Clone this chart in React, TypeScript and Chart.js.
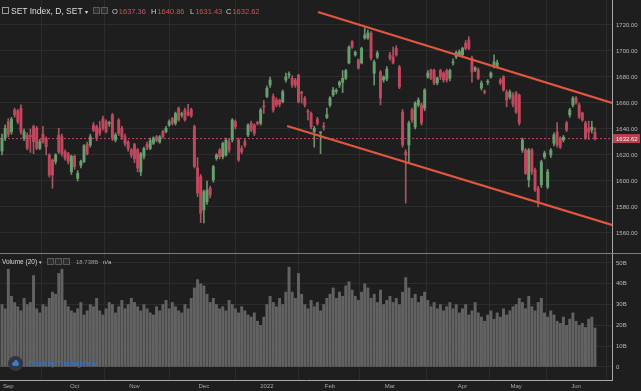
import React, { useEffect, useRef } from "react";
import { Chart, registerables } from "chart.js";
Chart.register(...registerables);

// ---------- data ----------
const opens = [
  1623, 1633, 1645.6, 1637.9, 1654.6, 1654, 1655.9, 1632.8, 1635.4, 1635,
  1641.8, 1640.5, 1625.2, 1636, 1632.8, 1620, 1616, 1615, 1635.4, 1634,
  1622.5, 1621, 1607, 1619, 1602, 1612, 1615, 1628, 1627.7, 1643,
  1641.8, 1640.5, 1648, 1645.6, 1644, 1650.8, 1631.5, 1646.9, 1640.5, 1634,
  1630, 1624, 1628, 1624, 1607, 1619, 1628, 1625, 1629, 1634,
  1630, 1638, 1638, 1643, 1648, 1644.4, 1655.9, 1650.8, 1654.6, 1653,
  1655, 1641.8, 1610, 1603.3, 1577.7, 1584, 1594.4, 1600.8, 1617.4, 1623.8,
  1618.7, 1620, 1630.2, 1631.5, 1645.6, 1631.5, 1625, 1630.2, 1635.4, 1644.4,
  1643.1, 1644.6, 1644.4, 1657.2, 1665, 1673.8, 1665, 1662.3, 1662, 1661,
  1677.7, 1681.5, 1679, 1677.7, 1681.5, 1667.7, 1663.6, 1653.3, 1652, 1638,
  1647.5, 1637, 1641.8, 1649, 1658.5, 1666.2, 1669, 1673.8, 1676, 1679,
  1690.8, 1707, 1697, 1693, 1690.8, 1710, 1710, 1713.8, 1683, 1695.4,
  1683.8, 1677.7, 1678.5, 1697, 1695.4, 1702, 1687.7, 1653, 1622.3, 1627.7,
  1654.6, 1641.5, 1658.5, 1658.5, 1656, 1680, 1685.4, 1685, 1675.4, 1685,
  1683, 1685, 1679, 1690.8, 1695.4, 1697, 1697, 1706, 1708.5, 1694.6,
  1685.4, 1685.4, 1671.5, 1668.5, 1676, 1680, 1687.7, 1688, 1677.7, 1680,
  1668.5, 1664.6, 1666, 1667.7, 1666, 1623.8, 1623.8, 1600.8, 1623.8, 1608.5,
  1594.4, 1597, 1618.5, 1595.4, 1620, 1629, 1637.7, 1633, 1631.5, 1644.6,
  1650.8, 1658.5, 1663.8, 1658.5, 1652.3, 1644.6, 1640.8, 1639.2, 1637.36,
];
const highs = [
  1636, 1643, 1648, 1649, 1656, 1655, 1658.5, 1640, 1637, 1640,
  1643, 1642, 1632, 1642, 1634, 1621, 1617, 1621, 1640.5, 1636,
  1624, 1622, 1620, 1620, 1608, 1616, 1628, 1630, 1636, 1645,
  1643, 1646, 1650, 1647, 1646, 1652, 1637, 1648, 1642, 1636,
  1631, 1625, 1629, 1625, 1622, 1626, 1630, 1633, 1634, 1635,
  1635, 1639, 1642, 1647, 1649, 1653, 1657, 1653, 1656, 1659,
  1656, 1643, 1618, 1605, 1593, 1600, 1596, 1612, 1621, 1625,
  1630, 1633, 1632, 1648, 1647, 1633, 1627, 1632, 1644, 1646,
  1644, 1646, 1656, 1662, 1673, 1680, 1667, 1664, 1663, 1670,
  1683, 1684, 1681, 1679, 1682, 1669, 1665, 1655, 1653, 1642,
  1649, 1638, 1645, 1656, 1665, 1672, 1671, 1677, 1685, 1686,
  1704, 1708, 1700, 1694, 1703, 1718, 1716, 1715, 1693, 1700,
  1685, 1681, 1688, 1699, 1703, 1704, 1689, 1655, 1624, 1646,
  1656, 1661, 1664, 1660, 1671, 1685, 1686, 1686, 1680, 1686,
  1684, 1686, 1686, 1694, 1700, 1701, 1703, 1708, 1711, 1696,
  1688, 1687, 1677, 1670, 1678, 1684, 1697, 1693, 1679, 1681,
  1670, 1670, 1668, 1669, 1667, 1633, 1625, 1625, 1625, 1610,
  1596, 1616, 1623, 1609, 1625, 1637, 1645, 1634, 1635, 1646,
  1656, 1665, 1665, 1660, 1653, 1646, 1646, 1646, 1640.86,
];
const lows = [
  1620, 1631, 1634, 1636, 1649, 1644, 1636, 1631, 1624, 1622,
  1621, 1624, 1624, 1629, 1620, 1603, 1594.4, 1613, 1621, 1619,
  1616, 1613, 1605, 1609, 1600, 1610, 1614, 1620, 1626, 1638,
  1631, 1635, 1639, 1637, 1642, 1631, 1630, 1635, 1632, 1627,
  1623, 1618, 1614, 1607, 1604, 1617, 1624, 1624, 1628, 1630,
  1629, 1633, 1637, 1642, 1643, 1643, 1646, 1649, 1646, 1650,
  1649, 1610, 1588, 1568, 1567.7, 1582, 1587, 1599, 1616, 1617,
  1617, 1619, 1622, 1630, 1640, 1615, 1621, 1626, 1634, 1638,
  1635, 1643, 1643, 1652, 1664, 1672, 1653, 1657, 1657, 1660,
  1676, 1679, 1672, 1672, 1660, 1660, 1657, 1647, 1640, 1626,
  1643, 1621, 1639, 1648, 1657, 1665, 1667, 1672, 1668, 1678,
  1690, 1702, 1696, 1686, 1690, 1709, 1709, 1693, 1673.8, 1694,
  1658.5, 1676, 1677, 1693, 1690, 1696, 1671, 1626, 1583, 1614,
  1645, 1640, 1657, 1643, 1654, 1679, 1678, 1674, 1674, 1678,
  1676, 1676, 1677, 1689, 1694, 1696, 1695, 1701, 1701, 1676,
  1684, 1678, 1670, 1667, 1674, 1679, 1687, 1687, 1674, 1669,
  1657, 1663, 1657, 1652, 1643, 1622, 1605, 1595.4, 1605, 1592,
  1580, 1595, 1617, 1594, 1618, 1627, 1626, 1625, 1630, 1638,
  1649, 1657, 1659, 1648, 1646, 1632, 1632, 1637, 1631.43,
];
const closes = [
  1633, 1640.5, 1635.9, 1647.5, 1650.8, 1645.6, 1637.9, 1637.9, 1625.2, 1634,
  1630.2, 1625.2, 1630.2, 1630, 1626.4, 1604.6, 1604.6, 1620, 1622.5, 1621,
  1617.4, 1615, 1619, 1611, 1606, 1615, 1627, 1621, 1634, 1639,
  1632.8, 1636.7, 1640.5, 1637.9, 1644.4, 1632.8, 1635.4, 1636.7, 1634, 1628.9,
  1625, 1620, 1617, 1610, 1621, 1625, 1626, 1631, 1633, 1631,
  1634, 1634, 1640.5, 1645.6, 1644.4, 1652, 1647, 1651, 1647, 1651,
  1650, 1611, 1590.8, 1575, 1591.8, 1593, 1589.2, 1611, 1620, 1618.7,
  1629, 1631.5, 1623.8, 1646.9, 1641.8, 1616.2, 1622.5, 1627.7, 1643.1, 1639.2,
  1636.7, 1644.2, 1654.6, 1657, 1671.3, 1677.7, 1654.6, 1658.5, 1659, 1668.7,
  1680.2, 1681.8, 1673.8, 1673.8, 1661, 1667.5, 1658.5, 1653, 1641.8, 1640.5,
  1644.4, 1637.3, 1641.5, 1651, 1663.8, 1670, 1669.3, 1676, 1679, 1685,
  1703, 1703, 1699, 1687, 1702, 1712.3, 1713.8, 1694.6, 1691.5, 1698.5,
  1663.8, 1680, 1686, 1694.6, 1690.8, 1697, 1672.3, 1627.7, 1620, 1644.6,
  1647, 1660, 1662.3, 1644.6, 1670, 1683, 1679, 1675.4, 1679.2, 1680,
  1677.7, 1677.7, 1685, 1691, 1699, 1699.5, 1702, 1702, 1702, 1683.8,
  1687, 1679, 1675.4, 1668.3, 1676.3, 1683, 1691.5, 1691, 1675.4, 1670,
  1662.3, 1668.5, 1659, 1653, 1644.6, 1631.5, 1606, 1623.8, 1607, 1593,
  1583.8, 1614.6, 1621.5, 1607, 1623.8, 1635.4, 1627.7, 1626, 1633.8, 1639.2,
  1654.6, 1663.8, 1660, 1649.2, 1647, 1633, 1637.7, 1641.5, 1632.62,
];
// volume in billions
const volumes = [
  30, 28, 47, 34, 31, 29, 27, 33, 30, 31, 44, 28, 26, 30, 29, 33, 36, 35, 45, 47, 32, 29, 27,
  26, 28, 31, 25, 27, 30, 29, 33, 27, 25, 28, 31, 30, 26, 29, 32, 28, 30, 33,
  31, 29, 27, 30, 28, 26, 25, 29, 27, 30, 32, 28, 31, 29, 27, 26, 30, 28, 33, 38, 42, 40,
  39, 35, 31, 33, 30, 28, 29, 27, 32, 30, 28, 26, 29, 27, 25, 24, 26, 22, 20, 24,
  30, 34, 31, 29, 33, 30, 36, 48, 36, 33, 45, 35, 30, 28, 32, 29, 31, 27, 30, 33,
  35, 38, 33, 36, 34, 39, 41, 37, 34, 32, 36, 40, 38, 33, 35, 31, 37, 30, 32,
  34, 31, 33, 30, 36, 43, 38, 33, 35, 31, 34, 36, 32, 29, 31, 28, 30, 27, 29, 31, 28, 30, 26,
  28, 30, 25, 27, 31, 26, 24, 22, 25, 27, 23, 26, 24, 28, 25, 27, 29,
  30, 33, 31, 28, 34, 29, 27, 31, 33, 26, 24, 27, 25, 22, 21, 24, 20, 23, 26,
  22, 20, 21, 19, 23, 24, 18.738,
];
const monthTickIndex = [2, 23, 42, 64, 84, 104, 123, 146, 163, 182];
const monthTickLabels = ["Sep", "Oct", "Nov", "Dec", "2022", "Feb", "Mar", "Apr", "May", "Jun"];
const priceTicks = [1560, 1580, 1600, 1620, 1640, 1660, 1680, 1700, 1720];
const volumeTicks = [0, 10, 20, 30, 40, 50];
// trend line anchors: [bar index, price]
const upperTrend = [
  { x: 100.2, y: 1730 },
  { x: 193.4, y: 1660 },
];
const lowerTrend = [
  { x: 90.4, y: 1642.3 },
  { x: 193.4, y: 1566.2 },
];

// ---------- style ----------
const BG = "#1e1e1e";
const GRID = "#2c2c2c";
const AXIS = "#a8a8a8";
const UP = "#67a06d";
const DOWN = "#c4465c";
const UP_WICK = "rgba(120,165,124,0.85)";
const DOWN_WICK = "rgba(190,95,110,0.85)";
const TREND = "#e2553e";
const VOL = "#626262";
const FONT = '"Liberation Sans", Arial, sans-serif';
const X_MIN = -0.634;
const X_MAX = 193.4;
const P_MAX = 1739.23;
const P_MIN = 1544.6;
const V_MAX = 54.8;
const V_MIN = -6.26;

const n = Math.min(opens.length, highs.length, lows.length, closes.length);
const idx = Array.from({ length: n }, (_, i) => i);
const lastClose = closes[n - 1];

const priceLabelPlugin = {
  id: "priceLabel",
  afterDraw(chart: any) {
    const ys = chart.scales.y;
    const py = ys.getPixelForValue(lastClose);
    const ctx = chart.ctx;
    ctx.save();
    ctx.fillStyle = "#b8414f";
    ctx.fillRect(ys.left + 1, py - 4.5, 27, 9);
    ctx.fillStyle = "#f2f2f2";
    ctx.font = `6px ${FONT}`;
    ctx.textBaseline = "middle";
    ctx.textAlign = "left";
    ctx.fillText(lastClose.toFixed(2), ys.left + 4, py + 0.5);
    ctx.restore();
  },
};

function PriceChart() {
  const ref = useRef<HTMLCanvasElement>(null);
  useEffect(() => {
    const up = idx.map((i) => closes[i] >= opens[i]);
    const chart = new Chart(ref.current!, {
      type: "bar",
      data: {
        datasets: [
          { type: "line", data: upperTrend, borderColor: TREND, borderWidth: 2.3, pointRadius: 0, order: 0 } as any,
          { type: "line", data: lowerTrend, borderColor: TREND, borderWidth: 2.3, pointRadius: 0, order: 0 } as any,
          {
            type: "line",
            data: [
              { x: X_MIN, y: lastClose },
              { x: X_MAX, y: lastClose },
            ],
            borderColor: DOWN,
            borderWidth: 1,
            borderDash: [2, 2],
            pointRadius: 0,
            order: 3,
          } as any,
          {
            type: "bar",
            data: idx.map((i) => ({ x: i, y: [Math.min(opens[i], closes[i]), Math.max(opens[i], closes[i])] })),
            backgroundColor: up.map((u) => (u ? UP : DOWN)),
            barThickness: 2.3,
            minBarLength: 1,
            grouped: false,
            order: 1,
          } as any,
          {
            type: "bar",
            data: idx.map((i) => ({ x: i, y: [lows[i], highs[i]] })),
            backgroundColor: up.map((u) => (u ? UP_WICK : DOWN_WICK)),
            barThickness: 1,
            grouped: false,
            order: 2,
          } as any,
        ],
      },
      options: {
        responsive: false,
        animation: false,
        events: [],
        layout: { padding: 0 },
        plugins: { legend: { display: false }, tooltip: { enabled: false } },
        scales: {
          x: {
            type: "linear",
            min: X_MIN,
            max: X_MAX,
            offset: false,
            afterBuildTicks: (s: any) => {
              s.ticks = monthTickIndex.map((v) => ({ value: v }));
            },
            afterFit: (s: any) => {
              s.height = 0;
              s.paddingLeft = 0;
              s.paddingRight = 0;
            },
            ticks: { display: false },
            grid: { color: GRID, drawTicks: false },
            border: { display: false },
          },
          y: {
            type: "linear",
            position: "right",
            min: P_MIN,
            max: P_MAX,
            afterBuildTicks: (s: any) => {
              s.ticks = priceTicks.map((v) => ({ value: v }));
            },
            afterFit: (s: any) => {
              s.width = 29;
              s.paddingTop = 0;
              s.paddingBottom = 0;
            },
            ticks: {
              color: "#b8b8b8",
              font: { size: 6, family: FONT },
              padding: 4,
              callback: (v: any) => Number(v).toFixed(2),
            },
            grid: { color: GRID, drawTicks: false },
            border: { display: true, color: AXIS },
          },
        },
      } as any,
      plugins: [priceLabelPlugin],
    });
    return () => chart.destroy();
  }, []);
  return <canvas ref={ref} width={641} height={253} style={{ display: "block" }} />;
}

function VolumeChart() {
  const ref = useRef<HTMLCanvasElement>(null);
  useEffect(() => {
    const chart = new Chart(ref.current!, {
      type: "bar",
      data: {
        datasets: [
          {
            type: "bar",
            data: volumes.map((v, i) => ({ x: i, y: v })),
            backgroundColor: VOL,
            barThickness: 2.3,
            grouped: false,
          } as any,
        ],
      },
      options: {
        responsive: false,
        animation: false,
        events: [],
        layout: { padding: 0 },
        plugins: { legend: { display: false }, tooltip: { enabled: false } },
        scales: {
          x: {
            type: "linear",
            min: X_MIN,
            max: X_MAX,
            offset: false,
            afterBuildTicks: (s: any) => {
              s.ticks = monthTickIndex.map((v) => ({ value: v }));
            },
            afterFit: (s: any) => {
              s.height = 11;
              s.paddingLeft = 0;
              s.paddingRight = 0;
            },
            ticks: {
              color: "#a8a8a8",
              font: { size: 6, family: FONT },
              padding: 3,
              maxRotation: 0,
              autoSkip: false,
              callback: (v: any) => monthTickLabels[monthTickIndex.indexOf(Number(v))] ?? "",
            },
            grid: { color: GRID, drawTicks: false },
            border: { display: true, color: AXIS },
          },
          y: {
            type: "linear",
            position: "right",
            min: V_MIN,
            max: V_MAX,
            afterBuildTicks: (s: any) => {
              s.ticks = volumeTicks.map((v) => ({ value: v }));
            },
            afterFit: (s: any) => {
              s.width = 29;
              s.paddingTop = 0;
              s.paddingBottom = 0;
            },
            ticks: {
              color: "#b8b8b8",
              font: { size: 6, family: FONT },
              padding: 4,
              callback: (v: any) => (Number(v) === 0 ? "0" : `${v}B`),
            },
            grid: { color: GRID, drawTicks: false },
            border: { display: true, color: AXIS },
          },
        },
      } as any,
    });
    return () => chart.destroy();
  }, []);
  return <canvas ref={ref} width={641} height={138} style={{ display: "block" }} />;
}

const box = (left: number, top: number, size: number): React.CSSProperties => ({
  position: "absolute",
  left,
  top,
  width: size,
  height: size,
  border: "1px solid #5a5a5a",
  background: "#2e2e2e",
  boxSizing: "border-box",
});

export default function App() {
  const txt = (left: number, top: number, size: number, color: string): React.CSSProperties => ({
    position: "absolute",
    left,
    top,
    fontSize: size,
    color,
    fontFamily: FONT,
    whiteSpace: "nowrap",
    lineHeight: 1,
  });
  const red = "#d24f5c";
  const lab = "#cfcfcf";
  return (
    <div style={{ position: "fixed", left: 0, top: 0, width: 641, height: 391, background: BG, overflow: "hidden" }}>
      <PriceChart />
      <div style={{ height: 1, background: "#7c7c7c", position: "absolute", left: 0, top: 253, width: 641, zIndex: 2 }} />
      <VolumeChart />
      {/* header legend */}
      <div style={{ ...box(2, 7, 7), border: "1px solid #9a9a9a", background: "transparent" }} />
      <div style={txt(11, 6.5, 8.5, "#dcdcdc")}>
        SET Index, D, SET <span style={{ fontSize: 6 }}>▾</span>
      </div>
      <div style={box(93, 7, 7)} />
      <div style={box(101, 7, 7)} />
      <div style={txt(112, 7.5, 7.5, lab)}>
        O<span style={{ color: red, marginLeft: 1 }}>{opens[n - 1].toFixed(2)}</span>
      </div>
      <div style={txt(151, 7.5, 7.5, lab)}>
        H<span style={{ color: red, marginLeft: 1 }}>{highs[n - 1].toFixed(2)}</span>
      </div>
      <div style={txt(190, 7.5, 7.5, lab)}>
        L<span style={{ color: red, marginLeft: 1 }}>{lows[n - 1].toFixed(2)}</span>
      </div>
      <div style={txt(226, 7.5, 7.5, lab)}>
        C<span style={{ color: red, marginLeft: 1 }}>{closes[n - 1].toFixed(2)}</span>
      </div>
      {/* volume legend */}
      <div style={txt(2, 258.5, 6.5, "#d4d4d4")}>
        Volume (20) <span style={{ fontSize: 5 }}>▾</span>
      </div>
      <div style={box(47, 258, 7)} />
      <div style={box(55, 258, 7)} />
      <div style={box(63, 258, 7)} />
      <div style={txt(76, 259, 6, "#9a9a9a")}>{volumes[volumes.length - 1].toFixed(3)}B</div>
      <div style={txt(103, 259, 6, "#bdbdbd")}>n/a</div>
      {/* watermark */}
      <div
        style={{
          position: "absolute",
          left: 8,
          top: 356,
          width: 15,
          height: 15,
          borderRadius: 8,
          background: "#33373d",
        }}
      >
        <div style={{ position: "absolute", left: 4, top: 6, width: 7, height: 4, borderRadius: 2, background: "#3a7bd0" }} />
        <div style={{ position: "absolute", left: 5.5, top: 4, width: 4, height: 4, borderRadius: 2, background: "#3a7bd0" }} />
      </div>
      <div style={txt(28, 360, 7.2, "#3574c8")}>Chart by TradingView</div>
    </div>
  );
}
